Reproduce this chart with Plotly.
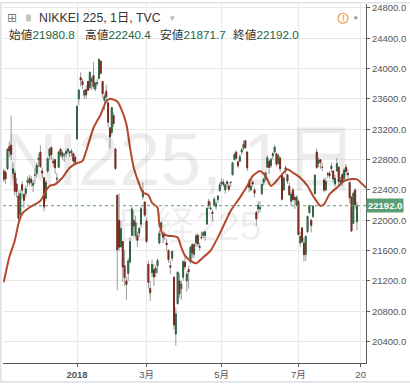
import pandas as pd
import plotly.graph_objects as go

# ---------------- data (Nikkei 225, daily) ----------------
holidays = ["2017-11-03", "2017-11-23", "2018-01-01", "2018-01-02", "2018-01-03",
            "2018-01-08", "2018-02-12", "2018-03-21", "2018-04-30", "2018-05-03",
            "2018-05-04", "2018-07-16", "2018-08-31"]

opens = [
    22200, 22650, 22630, 22680, 22970, 22990, 22620, 22620, 22480, 22320, 22080, 22470, 22340, 22350, 22500, 22490, 22540, 22460, 22600, 22620,
    22800, 22900, 22650, 22560, 22290, 22650, 22850, 22960, 22780, 22800, 22540, 22700, 22940, 22840, 22860, 22880, 22910, 22900, 22890, 22880, 22830,
    23074, 23600, 23880, 23830, 23650, 23720, 23830, 23750, 23830, 23910, 23730, 23800, 23870, 24100, 23830, 23580, 23700, 23550, 23220,
    23160, 23380, 22940, 22331, 22000, 21650, 21720, 21400, 21200, 21300, 21450, 21800, 22000, 21800, 21800, 21830, 21950, 22310, 22240,
    21990, 21420, 21100, 21310, 21350, 21310, 21400, 21700, 21880, 21820, 21800, 21700, 21600, 21400, 21500, 21250, 20500, 20900, 21200, 21100, 21250,
    21450, 21200, 21350, 21450, 21680, 21550, 21700, 21800, 21640, 21770, 21800, 21800, 21950, 22250, 22150, 22110, 22200, 22180, 22270, 22390,
    22480, 22500, 22400, 22480, 22450, 22500, 22600, 22800, 22900, 22770, 22780, 22900, 22950, 23050, 22900, 22500, 22400, 22500, 22400, 22100, 22150,
    22150, 22350, 22500, 22550, 22700, 22780, 22720, 22850, 22900, 22880, 22750, 22820, 22600, 22400, 22650, 22600, 22450, 22250, 22400, 22300, 22200,
    22250, 21700, 21900, 21700, 21550, 21850, 22100, 22000, 22050, 22350, 22900, 22750, 22800, 22700, 22530, 22400, 22600, 22620, 22680, 22650, 22480,
    22650, 22700, 22500, 22600, 22550, 22700, 22620, 22500, 22300, 21960, 22400, 21980.8,
]
highs = [
    22440, 22680, 22660, 22950, 23040, 23382, 22760, 22660, 22560, 22380, 22400, 22520, 22360, 22460, 22580, 22600, 22580, 22530, 22680, 22760,
    22880, 22990, 22700, 22570, 22530, 22830, 22950, 22970, 22830, 22810, 22620, 22910, 22950, 22920, 22890, 22930, 22950, 22920, 22940, 22890, 22860,
    23506, 23730, 23952, 23865, 23730, 23780, 23834, 23962, 23890, 24084, 23830, 23860, 24129, 24100, 23830, 23670, 23787, 23550, 23230,
    23492, 23420, 22960, 22335, 22353, 22000, 21720, 21610, 21250, 21500, 21780, 22180, 22120, 22060, 21850, 21910, 22180, 22502, 22250,
    22030, 21470, 21200, 21480, 21420, 21400, 21500, 21870, 21980, 21840, 21850, 21750, 21620, 21470, 21600, 21250, 20850, 21320, 21300, 21200, 21470,
    21530, 21330, 21400, 21660, 21700, 21700, 21820, 21830, 21700, 21850, 21850, 21860, 22170, 22285, 22240, 22140, 22310, 22250, 22330, 22500,
    22560, 22540, 22480, 22530, 22500, 22520, 22770, 22890, 22920, 22790, 22870, 22950, 23050, 23050, 22910, 22550, 22520, 22530, 22430, 22130, 22250,
    22250, 22480, 22560, 22640, 22860, 22800, 22830, 22900, 22990, 22890, 22880, 22840, 22610, 22580, 22720, 22610, 22500, 22380, 22430, 22340, 22330,
    22270, 21850, 21900, 21770, 21800, 22060, 22200, 22020, 22200, 22600, 22949, 22830, 22800, 22760, 22560, 22560, 22640, 22650, 22760, 22660, 22600,
    22820, 22710, 22570, 22620, 22690, 22740, 22680, 22510, 22320, 22380, 22420, 22240.4,
]
lows = [
    22170, 22500, 22480, 22660, 22830, 22800, 22540, 22330, 22300, 21972, 22060, 22290, 22160, 22300, 22440, 22460, 22440, 22370, 22480, 22560,
    22700, 22690, 22560, 22119, 22250, 22620, 22800, 22790, 22700, 22610, 22470, 22690, 22840, 22800, 22770, 22830, 22870, 22830, 22840, 22740, 22740,
    23065, 23520, 23765, 23733, 23600, 23600, 23704, 23720, 23720, 23730, 23700, 23770, 23860, 23920, 23620, 23450, 23580, 23230, 22946,
    23120, 23230, 22660, 21078, 21600, 21640, 21186, 21135, 20950, 21200, 21430, 21790, 21780, 21760, 21650, 21780, 21900, 22270, 22040,
    21700, 21100, 20937, 21250, 21130, 21250, 21300, 21680, 21800, 21700, 21740, 21590, 21440, 21290, 21460, 20560, 20347, 20890, 20980, 20950, 21200,
    21350, 21056, 21100, 21420, 21500, 21500, 21650, 21650, 21600, 21750, 21770, 21730, 21940, 22150, 22130, 21990, 22180, 22140, 22230, 22380,
    22450, 22440, 22350, 22420, 22380, 22440, 22590, 22790, 22800, 22690, 22770, 22860, 22930, 22940, 22650, 22370, 22380, 22440, 22300, 21931, 22090,
    22100, 22330, 22460, 22520, 22690, 22610, 22690, 22800, 22880, 22700, 22730, 22640, 22260, 22390, 22600, 22480, 22320, 22190, 22250, 22150, 22180,
    21800, 21650, 21700, 21460, 21460, 21830, 22080, 21840, 22030, 22340, 22680, 22700, 22680, 22650, 22370, 22380, 22560, 22550, 22630, 22500, 22440,
    22640, 22470, 22460, 22450, 22530, 22600, 22560, 22230, 21851, 21950, 22150, 21871.7,
]
closes = [
    22420, 22540, 22548, 22937, 22914, 22869, 22681, 22381, 22380, 22028, 22351, 22397, 22262, 22417, 22524, 22551, 22496, 22487, 22598, 22725,
    22819, 22707, 22622, 22177, 22498, 22811, 22938, 22866, 22758, 22694, 22553, 22901, 22868, 22892, 22866, 22903, 22939, 22892, 22912, 22784, 22765,
    23506, 23715, 23850, 23788, 23711, 23653, 23715, 23952, 23868, 23763, 23808, 23816, 24124, 23940, 23669, 23632, 23629, 23292, 23098,
    23486, 23274, 22682, 21610, 21645, 21891, 21383, 21245, 21154, 21464, 21720, 22150, 21925, 21970, 21737, 21893, 22153, 22390, 22068,
    21724, 21182, 21042, 21418, 21253, 21368, 21470, 21824, 21968, 21777, 21804, 21677, 21481, 21380, 21591, 20618, 20766, 21318, 21031, 21160, 21454,
    21388, 21292, 21320, 21645, 21568, 21678, 21795, 21687, 21661, 21779, 21836, 21848, 22159, 22192, 22163, 22089, 22278, 22215, 22320, 22468,
    22508, 22473, 22467, 22509, 22409, 22497, 22758, 22866, 22818, 22718, 22838, 22930, 23002, 22960, 22690, 22437, 22451, 22481, 22358, 22018, 22202,
    22171, 22475, 22540, 22626, 22824, 22695, 22804, 22879, 22966, 22739, 22852, 22680, 22278, 22556, 22693, 22517, 22338, 22342, 22272, 22270, 22305,
    21812, 21786, 21717, 21547, 21788, 22052, 22197, 21932, 22188, 22597, 22697, 22794, 22764, 22698, 22397, 22510, 22614, 22586, 22713, 22544, 22554,
    22747, 22512, 22525, 22508, 22662, 22645, 22599, 22298, 21858, 22356, 22204, 22192.0,
]

# moving-average line, sampled along bars (bar number, value)
ma_bar = [1, 4, 7, 9, 11, 15, 21, 24, 26, 29, 33, 37, 41, 44, 46, 50, 54, 57, 59, 63, 65, 68, 70, 72,
          75, 77, 80, 82, 85, 86, 88, 91, 96, 98, 100, 103, 106, 110, 114, 119, 125, 130, 134, 137,
          141, 144, 147, 150, 153, 156, 159, 163, 167, 170, 174, 176, 179, 183, 187, 190, 194, 197, 199]
ma_value = [21184, 21512, 21731, 21954, 22085, 22168, 22256, 22387, 22452, 22475, 22561, 22693, 22754,
            22780, 22911, 23217, 23397, 23567, 23603, 23567, 23479, 23266, 22955, 22693, 22479, 22365,
            22334, 22230, 22168, 21950, 21819, 21797, 21774, 21643, 21534, 21469, 21433, 21512, 21600,
            21823, 22125, 22299, 22452, 22584, 22649, 22584, 22452, 22518, 22606, 22672, 22627, 22561,
            22452, 22321, 22190, 22212, 22344, 22430, 22518, 22540, 22540, 22475, 22430]

tick_dates = ["2018-01-04", "2018-03-01", "2018-05-01", "2018-07-02", "2018-08-20"]
tick_text = ["<b>2018</b>", "3月", "5月", "7月", "20"]
y_ticks = [20400, 20800, 21200, 21600, 22000, 22400, 22800, 23200, 23600, 24000, 24400, 24800]

# ---------------- build ----------------
all_days = [d.strftime("%Y-%m-%d") for d in pd.bdate_range("2017-11-01", "2018-08-31")
            if d.strftime("%Y-%m-%d") not in holidays]
n = len(closes)
dates = all_days[:n]
idx = list(range(n))
tick_pos = [all_days.index(d) for d in tick_dates]

GREEN, GREEN_D = "#53976a", "#2c6340"
RED, RED_D = "#b4432f", "#76291d"
WICK = "#9a9a9a"
FONT = "Liberation Sans, Arial, Noto Sans CJK JP, sans-serif"

W, H = 410, 385
PL, PR, PT, PB = 3, 366, 2, 363


def px(x):
    return (x - PL) / (PR - PL)


def py(y):
    return (PB - y) / (PB - PT)


fig = go.Figure()
# wicks
fig.add_trace(go.Candlestick(
    x=idx, open=opens, high=highs, low=lows, close=closes,
    increasing=dict(line=dict(color=WICK, width=1), fillcolor=WICK),
    decreasing=dict(line=dict(color=WICK, width=1), fillcolor=WICK),
    showlegend=False, hoverinfo="skip"))
# bodies
body_hi = [max(o, c) for o, c in zip(opens, closes)]
body_lo = [min(o, c) for o, c in zip(opens, closes)]
fig.add_trace(go.Candlestick(
    x=idx, open=opens, high=body_hi, low=body_lo, close=closes,
    increasing=dict(line=dict(color=GREEN_D, width=1), fillcolor=GREEN),
    decreasing=dict(line=dict(color=RED_D, width=1), fillcolor=RED),
    showlegend=False, hoverinfo="skip"))
# moving average
fig.add_trace(go.Scatter(
    x=ma_bar, y=ma_value, mode="lines",
    line=dict(color="#b4482c", width=2, shape="spline", smoothing=0.6),
    showlegend=False, hoverinfo="skip"))

last_close = closes[-1]
fig.add_shape(type="line", xref="paper", x0=0, x1=1, yref="y", y0=last_close, y1=last_close,
              line=dict(color="#5a9a72", width=1, dash="dot"))

xmin = 41 - (77 - PL) / 1.83
xmax = 41 + (PR - 77) / 1.83
fig.update_layout(
    width=W, height=H,
    margin=dict(l=PL, r=W - PR, t=PT, b=H - PB),
    paper_bgcolor="white", plot_bgcolor="white",
    font=dict(family=FONT, color="#4a4a4a"),
    boxgap=0.3,
    xaxis=dict(range=[xmin, xmax], rangeslider=dict(visible=False),
               tickmode="array", tickvals=tick_pos, ticktext=tick_text,
               showgrid=True, gridcolor="#e9e9e9", gridwidth=1, zeroline=False,
               showline=True, linecolor="#5a5a5a", linewidth=1,
               ticks="outside", ticklen=3, tickcolor="#5a5a5a",
               tickfont=dict(size=9.5, color="#555")),
    yaxis=dict(range=[20118, 24852], side="right",
               tickmode="array", tickvals=y_ticks, ticktext=[f"{v:.1f}" for v in y_ticks],
               showgrid=True, gridcolor="#e9e9e9", gridwidth=1, zeroline=False,
               showline=True, linecolor="#5a5a5a", linewidth=1,
               ticks="outside", ticklen=3, tickcolor="#5a5a5a",
               tickfont=dict(size=9.5, color="#555")),
)


def note(x, y, text, size, color, family=FONT, xanchor="center"):
    return dict(xref="paper", yref="paper", x=px(x), y=py(y), text=text, showarrow=False,
                xanchor=xanchor, yanchor="middle",
                font=dict(size=size, color=color, family=family))


ann = []
# watermark
ann.append(note(181, 158, "NI225, 1日", 74, "rgba(0,0,0,0.075)"))
ann.append(note(188, 225, "日経225", 40, "rgba(0,0,0,0.075)"))
# header line 1
ann.append(note(12, 16, "⊞", 12, "#777", family="DejaVu Sans"))
ann.append(note(37, 16.5, "NIKKEI 225, 1日, TVC", 12.3, "#333", xanchor="left"))
ann.append(note(172, 16, "▾", 9, "#b5b5b5", family="DejaVu Sans"))
ann.append(note(343, 16.5, "<b>!</b>", 8.5, "#f29a55"))
# header line 2 (OHLC of the last bar)
labels = ["始値", "高値", "安値", "終値"]
vals = [opens[-1], highs[-1], lows[-1], closes[-1]]
xs = [7, 82.7, 157.7, 231]
for lab, v, x0 in zip(labels, vals, xs):
    ann.append(note(x0, 32.5, f"{lab}<span style='color:#23673f'>{v:.1f}</span>", 11.7, "#333",
                    xanchor="left"))
# last price label on axis
ann.append(dict(xref="paper", yref="y", x=1, y=last_close, xanchor="left", yanchor="middle",
                text=f"<b>{last_close:.1f}</b>", showarrow=False, bgcolor="#5b9d75",
                borderpad=1, font=dict(size=9.5, color="white", family=FONT)))
fig.update_layout(annotations=ann)

shapes = list(fig.layout.shapes)
shapes.append(dict(type="rect", xref="paper", yref="paper", x0=px(26), x1=px(31),
                   y0=py(19.5), y1=py(12.5), fillcolor="#c4c4c4", line=dict(width=0)))
shapes.append(dict(type="circle", xref="paper", yref="paper", x0=px(338), x1=px(348),
                   y0=py(21.3), y1=py(11.3), line=dict(color="#f29a55", width=1.2)))
shapes.append(dict(type="circle", xref="paper", yref="paper", x0=px(354), x1=px(357.5),
                   y0=py(17.5), y1=py(14), fillcolor="#9a9a9a", line=dict(width=0)))
shapes.append(dict(type="rect", xref="paper", yref="paper", x0=px(0.8), x1=px(413),
                   y0=py(382), y1=py(0.8), line=dict(color="#dfe2e6", width=1.6)))
fig.update_layout(shapes=shapes)

fig.write_html("out.html")
